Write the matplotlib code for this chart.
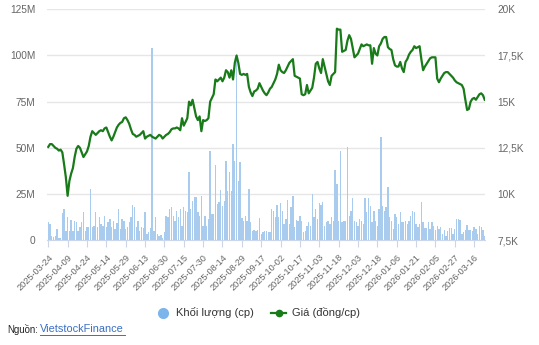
import matplotlib.pyplot as plt
from matplotlib.lines import Line2D

plt.rcParams['font.family'] = ['Liberation Sans', 'DejaVu Sans']

# nhãn ngày trên trục X (mỗi 11 phiên)
tick_labels = ['2025-03-24', '2025-04-09', '2025-04-24', '2025-05-14', '2025-05-29',
               '2025-06-13', '2025-06-30', '2025-07-15', '2025-07-30', '2025-08-14',
               '2025-08-29', '2025-09-17', '2025-10-02', '2025-10-17', '2025-11-03',
               '2025-11-18', '2025-12-03', '2025-12-18', '2026-01-06', '2026-01-21',
               '2026-02-05', '2026-02-27', '2026-03-16']
tick_step = 11

# giá đóng cửa (nghìn đồng/cp)
price_k = [
    12.55, 12.7, 12.7, 12.6, 12.5, 12.45, 12.35, 12.4, 12.25, 11.6,
    10.9, 9.9, 10.7, 11.1, 11.4, 12.0, 12.45, 12.6, 12.5, 12.25,
    12.0, 12.15, 12.3, 12.6, 13.1, 13.4, 13.3, 13.2, 13.3, 13.4,
    13.45, 13.4, 13.55, 13.6, 13.35, 13.1, 12.9, 13.1, 13.35, 13.6,
    13.75, 13.85, 13.9, 14.1, 14.15, 14.0, 13.8, 13.5, 13.25, 13.2,
    13.1, 13.15, 13.2, 13.3, 13.4, 13.0, 13.1, 13.15, 13.2, 13.1,
    13.05, 13.0, 13.1, 13.2, 13.15, 13.0, 13.1, 13.2, 13.25, 13.35,
    13.5, 13.55, 13.55, 13.6, 13.55, 13.45, 14.1, 13.7, 13.9, 14.1,
    15.0, 14.8, 15.1, 14.65, 14.2, 14.0, 14.2, 13.4, 14.0, 13.95,
    14.0, 14.1, 15.0, 15.2, 15.4, 16.2, 16.1, 16.2, 16.3, 16.1,
    16.3, 16.7, 16.6, 16.3, 16.7, 16.2, 17.1, 17.5, 17.1, 16.5,
    16.45, 16.5, 16.45, 16.5, 15.8, 15.5, 15.3, 15.55, 15.6, 15.7,
    16.0, 15.8, 15.6, 15.45, 15.35, 15.5, 15.7, 15.8, 16.0, 16.2,
    16.5, 17.0, 16.7, 16.6, 16.55, 16.7, 16.9, 17.1, 17.2, 17.3,
    16.4, 16.35, 16.3, 16.25, 15.4, 15.35, 15.4, 15.9, 15.45, 15.6,
    15.75, 16.3, 17.05, 17.15, 16.8, 16.55, 17.3, 16.9, 16.5, 16.1,
    15.9, 16.4, 16.5, 16.6, 18.95, 18.9, 18.9, 17.7, 17.75, 17.8,
    18.3, 18.6, 18.4, 17.9, 17.4, 17.5, 17.6, 17.85, 18.1, 18.0,
    18.05, 18.1, 18.05, 18.05, 17.05, 17.9, 17.6, 17.5, 18.0, 18.15,
    18.4, 18.5, 18.5, 17.95, 17.85, 17.8, 17.3, 16.97, 16.9, 16.9,
    17.15, 16.8, 16.6, 17.15, 17.3, 17.55, 17.7, 17.8, 18.0, 17.9,
    17.95, 18.0, 17.3, 16.7, 16.9, 17.05, 17.2, 17.35, 17.4, 17.4,
    17.4, 16.25, 16.05, 16.25, 16.4, 16.55, 16.6, 16.6, 16.5, 16.4,
    16.3, 16.15, 16.05, 16.0, 15.95, 15.9, 15.7, 15.1, 14.55, 14.6,
    15.0, 15.15, 15.2, 15.1, 15.25, 15.4, 15.45, 15.35, 15.1,
]

# khối lượng khớp lệnh (triệu cp)
volume_m = [
    10.0, 8.7, 2.4, 1.5, 2.4, 6.0, 1.4, 1.2, 14.5, 16.8,
    5.1, 12.7, 5.1, 10.9, 4.8, 10.5, 9.6, 5.1, 7.3, 9.6,
    15.0, 5.1, 7.3, 6.9, 27.7, 7.3, 7.8, 15.0, 6.9, 12.3,
    8.7, 7.8, 13.2, 7.3, 9.6, 11.4, 7.3, 10.5, 6.0, 9.2,
    16.8, 6.0, 11.4, 10.5, 6.0, 6.9, 9.6, 12.3, 19.2, 17.7,
    7.3, 10.5, 4.7, 7.3, 6.5, 15.0, 3.3, 4.2, 6.5, 104.0,
    5.1, 12.7, 3.3, 2.4, 2.9, 1.4, 4.2, 13.2, 12.7, 16.8,
    18.0, 13.2, 10.5, 15.6, 12.3, 16.8, 7.8, 17.7, 15.9, 15.0,
    36.7, 16.8, 21.4, 23.5, 23.5, 15.0, 13.2, 24.1, 7.8, 13.2,
    7.8, 11.4, 48.5, 14.1, 14.1, 40.9, 19.5, 20.5, 27.0, 18.6,
    21.4, 42.7, 26.8, 36.7, 26.8, 52.1, 43.1, 98.0, 32.2, 42.2,
    11.8, 10.5, 13.2, 10.5, 27.7, 9.6, 5.1, 5.4, 5.1, 5.4,
    11.8, 3.3, 4.2, 4.7, 4.7, 4.2, 4.2, 16.8, 15.9, 12.3,
    19.2, 12.3, 20.0, 15.9, 8.7, 11.4, 21.7, 8.7, 18.2, 24.1,
    6.9, 10.9, 10.5, 13.2, 10.5, 4.2, 5.1, 7.8, 9.6, 7.8,
    25.0, 12.3, 16.8, 11.4, 20.0, 19.2, 20.5, 7.8, 9.6, 10.5,
    8.7, 12.3, 10.5, 38.0, 30.4, 10.5, 48.5, 9.6, 10.5, 10.5,
    50.3, 13.2, 15.9, 22.8, 10.5, 9.6, 7.8, 11.4, 10.5, 8.7,
    23.0, 15.0, 22.8, 18.6, 9.6, 15.9, 10.5, 7.8, 16.8, 56.0,
    18.6, 15.9, 17.7, 29.0, 12.3, 10.5, 6.0, 14.1, 12.3, 8.7,
    15.0, 9.6, 9.6, 10.5, 8.7, 10.5, 12.9, 15.6, 15.0, 9.0,
    6.9, 8.7, 20.5, 9.6, 6.5, 6.5, 9.6, 6.0, 9.6, 7.6,
    5.4, 7.6, 6.0, 6.9, 3.3, 5.4, 2.4, 5.1, 6.5, 6.5,
    3.3, 6.0, 11.4, 11.4, 10.9, 3.3, 4.2, 5.4, 8.3, 5.4,
    5.4, 4.7, 6.9, 6.0, 3.3, 7.8, 6.9, 5.4, 2.4,
]

vol_ticks = [0, 25e6, 50e6, 75e6, 100e6, 125e6]
vol_tick_labels = ['0', '25M', '50M', '75M', '100M', '125M']
price_ticks = [7500, 10000, 12500, 15000, 17500, 20000]
price_tick_labels = ['7,5K', '10K', '12,5K', '15K', '17,5K', '20K']

xs = list(range(len(price_k)))
vol = [v * 1e6 for v in volume_m]
price = [p * 1000 for p in price_k]

label_color = '#666666'
grid_color = '#e6e6e6'
bar_color = '#a9cbee'
line_color = '#187a18'

fig = plt.figure(figsize=(5.39, 3.45), dpi=100)
fig.set_facecolor('white')
ax = fig.add_axes([0.0866, 0.304, 0.813, 0.669])
ax.set_facecolor('white')

ax.bar(xs, vol, width=0.78, color=bar_color, linewidth=0, zorder=2)
ax.set_ylim(0, 125e6)
ax.set_xlim(-0.9, len(xs) - 0.9)
ax.set_yticks(vol_ticks)
ax.set_yticklabels(vol_tick_labels)
ax.yaxis.grid(True, color=grid_color, linewidth=1)
ax.set_axisbelow(True)
ax.tick_params(axis='y', length=0, pad=8, labelsize=7.3, labelcolor=label_color)

ax.set_xticks(xs[::tick_step][:len(tick_labels)])
ax.set_xticklabels(tick_labels, rotation=45, ha='right', va='top',
                   rotation_mode='anchor')
ax.tick_params(axis='x', length=5, color='#ccd6eb', pad=4, labelsize=6.6,
               labelcolor=label_color)

for s in ['top', 'right', 'left']:
    ax.spines[s].set_visible(False)
ax.spines['bottom'].set_color('#ccd6eb')

ax2 = ax.twinx()
ax2.plot(xs, price, color=line_color, linewidth=1.6, zorder=3)
ax2.set_ylim(7500, 20000)
ax2.set_yticks(price_ticks)
ax2.set_yticklabels(price_tick_labels)
ax2.tick_params(axis='y', length=0, pad=9, labelsize=7.3, labelcolor=label_color)
for s in ['top', 'right', 'left', 'bottom']:
    ax2.spines[s].set_visible(False)

handles = [
    Line2D([], [], linestyle='none', marker='o', markersize=7,
           markerfacecolor='#7cb5ec', markeredgecolor='#7cb5ec'),
    Line2D([], [], color=line_color, linewidth=1.6, marker='o', markersize=4.5),
]
fig.legend(handles, ['Khối lượng (cp)', 'Giá (đồng/cp)'], loc='center',
           bbox_to_anchor=(0.478, 0.093), ncol=2, frameon=False,
           fontsize=8, handlelength=1.4, handletextpad=0.5, columnspacing=1.5,
           labelcolor='#333333')

# dòng nguồn dữ liệu
fig.text(0.013, 0.046, 'Nguồn:', fontsize=6.9, color='#222222', va='center')
fig.text(0.0735, 0.046, 'VietstockFinance', fontsize=7.9, color='#3a6fc4',
         va='center').set_url('https://finance.vietstock.vn')
fig.add_artist(Line2D([0.0735, 0.232], [0.029, 0.029], color='#3a6fc4',
                      linewidth=0.7))

fig.savefig('out.png', dpi=100, facecolor='white')
